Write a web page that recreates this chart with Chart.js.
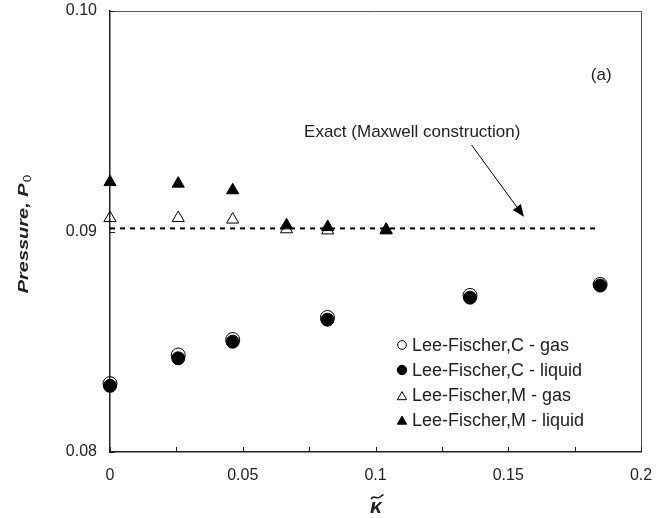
<!DOCTYPE html>
<html>
<head>
<meta charset="utf-8">
<script src="https://cdn.jsdelivr.net/npm/chart.js@4.4.0/dist/chart.umd.min.js"></script>
<style>
html, body { margin: 0; padding: 0; background: #fff; }
</style>
</head>
<body>
<canvas id="chart" width="667" height="518"></canvas>
<script>
// Lee-Fischer C (circles)
const cX = [0, 0.0257, 0.0462, 0.0819, 0.1356, 0.1846];
const cGas = [0.0831, 0.0844, 0.0851, 0.0861, 0.0871, 0.0876];
const cLiquid = [0.0830, 0.08425, 0.0850, 0.0860, 0.0870, 0.08755];

// Lee-Fischer M (triangles)
const mX = [0, 0.0257, 0.0462, 0.0665, 0.0820, 0.1040];
const mGas = [0.09061, 0.09061, 0.09054, 0.09010, 0.09005, 0.09005];
const mLiquid = [0.09224, 0.09217, 0.09187, 0.09028, 0.09020, 0.09008];

// exact Maxwell construction line
const exactX = [0, 0.184];
const exactY = [0.09014, 0.09014];

const xTickValues = [0, 0.025, 0.05, 0.075, 0.1, 0.125, 0.15, 0.175, 0.2];
const xTickLabels = ['0', '', '0.05', '', '0.1', '', '0.15', '', '0.2'];
const yTickValues = [0.08, 0.09, 0.10];
const yTickLabels = ['0.08', '0.09', '0.10'];

const FONT = '"Liberation Sans", Arial, sans-serif';
const INK = '#222';

function pts(xs, ys) {
    return xs.map((x, i) => ({ x: x, y: ys[i] }));
}

function marker(ctx, style, filled, r, x, y) {
    ctx.beginPath();
    if (style === 'circle') {
        ctx.arc(x, y, r, 0, Math.PI * 2);
    } else {
        ctx.moveTo(x, y - r);
        ctx.lineTo(x + r * 0.866, y + r * 0.5);
        ctx.lineTo(x - r * 0.866, y + r * 0.5);
        ctx.closePath();
    }
    if (filled) {
        ctx.fillStyle = '#000';
        ctx.fill();
    }
    ctx.strokeStyle = '#000';
    ctx.lineWidth = 1;
    ctx.stroke();
}

const decor = {
    id: 'decor',
    afterDraw(chart) {
        const ctx = chart.ctx;
        const a = chart.chartArea;
        const xs = chart.scales.x;
        const ys = chart.scales.y;
        ctx.save();

        // top and right frame
        ctx.strokeStyle = '#555';
        ctx.lineWidth = 1;
        ctx.beginPath();
        ctx.moveTo(a.left, a.top + 0.5);
        ctx.lineTo(a.right + 0.5, a.top + 0.5);
        ctx.lineTo(a.right + 0.5, a.bottom);
        ctx.stroke();

        // inward tick marks
        ctx.strokeStyle = INK;
        ctx.beginPath();
        xs.ticks.forEach(t => {
            const px = Math.round(xs.getPixelForValue(t.value)) + 0.5;
            ctx.moveTo(px, a.bottom);
            ctx.lineTo(px, a.bottom - 5);
        });
        ys.ticks.forEach(t => {
            const py = Math.round(ys.getPixelForValue(t.value)) + 0.5;
            ctx.moveTo(a.left, py);
            ctx.lineTo(a.left + 5, py);
        });
        ctx.stroke();

        // y title, stretched like the original
        ctx.save();
        ctx.translate(27.5, 234);
        ctx.rotate(-Math.PI / 2);
        ctx.scale(1.33, 1);
        ctx.fillStyle = INK;
        const main = 'Pressure, P';
        ctx.font = 'italic bold 15px ' + FONT;
        const wMain = ctx.measureText(main).width;
        ctx.font = '10px ' + FONT;
        const wSub = ctx.measureText('0').width;
        const start = -(wMain + wSub + 1) / 2;
        ctx.textBaseline = 'alphabetic';
        ctx.textAlign = 'left';
        ctx.font = 'italic bold 15px ' + FONT;
        ctx.fillText(main, start, 0);
        ctx.font = '10px ' + FONT;
        ctx.fillText('0', start + wMain + 1, 3);
        ctx.restore();

        // x title: kappa with tilde
        ctx.fillStyle = INK;
        ctx.textAlign = 'center';
        ctx.textBaseline = 'alphabetic';
        ctx.font = 'italic bold 21px ' + FONT;
        ctx.fillText('\u03BA', 376, 513);
        ctx.lineWidth = 1.6;
        ctx.strokeStyle = INK;
        ctx.beginPath();
        ctx.moveTo(371, 499);
        ctx.bezierCurveTo(374, 494, 377, 500, 380, 497);
        ctx.bezierCurveTo(381.5, 496, 382.5, 495, 383.5, 494.5);
        ctx.stroke();

        // panel label
        ctx.font = '17px ' + FONT;
        ctx.fillText('(a)', xs.getPixelForValue(0.185), ys.getPixelForValue(0.09714) + 6);

        // annotation + arrow
        ctx.textAlign = 'left';
        ctx.textBaseline = 'middle';
        ctx.fillText('Exact (Maxwell construction)', xs.getPixelForValue(0.0731), ys.getPixelForValue(0.09451));
        const x0 = xs.getPixelForValue(0.1362), y0 = ys.getPixelForValue(0.09392);
        const x1 = xs.getPixelForValue(0.1559), y1 = ys.getPixelForValue(0.09067);
        const ang = Math.atan2(y1 - y0, x1 - x0);
        const hl = 12, hw = 5;
        const bx = x1 - hl * Math.cos(ang), by = y1 - hl * Math.sin(ang);
        ctx.lineWidth = 1;
        ctx.strokeStyle = '#000';
        ctx.beginPath();
        ctx.moveTo(x0, y0);
        ctx.lineTo(bx, by);
        ctx.stroke();
        ctx.fillStyle = '#000';
        ctx.beginPath();
        ctx.moveTo(x1, y1);
        ctx.lineTo(bx + hw * Math.sin(ang), by - hw * Math.cos(ang));
        ctx.lineTo(bx - hw * Math.sin(ang), by + hw * Math.cos(ang));
        ctx.closePath();
        ctx.fill();

        // legend
        const rows = [345, 370, 395.5, 420];
        const legendSets = [0, 1, 2, 3];
        ctx.font = '18px ' + FONT;
        ctx.textBaseline = 'middle';
        legendSets.forEach((di, i) => {
            const ds = chart.data.datasets[di];
            const tri = ds.pointStyle === 'triangle';
            const filled = ds.pointBackgroundColor === '#000';
            const r = tri ? 5.4 : (filled ? 4.7 : 4.3);
            marker(ctx, ds.pointStyle, filled, r, 402, rows[i] + (tri ? 1.5 : 0));
            ctx.fillStyle = INK;
            ctx.fillText(ds.label, 412, rows[i] + 1);
        });

        ctx.restore();
    }
};

new Chart(document.getElementById('chart'), {
    type: 'scatter',
    data: {
        datasets: [
            {
                label: 'Lee-Fischer,C - gas',
                data: pts(cX, cGas),
                pointStyle: 'circle',
                pointRadius: 7,
                pointBackgroundColor: 'rgba(0,0,0,0)',
                pointBorderColor: '#000',
                pointBorderWidth: 1,
                clip: false,
                order: 4
            },
            {
                label: 'Lee-Fischer,C - liquid',
                data: pts(cX, cLiquid),
                pointStyle: 'circle',
                pointRadius: 6.5,
                pointBackgroundColor: '#000',
                pointBorderColor: '#000',
                pointBorderWidth: 1,
                clip: false,
                order: 3
            },
            {
                label: 'Lee-Fischer,M - gas',
                data: pts(mX, mGas),
                pointStyle: 'triangle',
                pointRadius: 7,
                pointBackgroundColor: 'rgba(0,0,0,0)',
                pointBorderColor: '#000',
                pointBorderWidth: 1,
                clip: false,
                order: 2
            },
            {
                label: 'Lee-Fischer,M - liquid',
                data: pts(mX, mLiquid),
                pointStyle: 'triangle',
                pointRadius: 7,
                pointBackgroundColor: '#000',
                pointBorderColor: '#000',
                pointBorderWidth: 1,
                clip: false,
                order: 1
            },
            {
                type: 'line',
                label: 'Exact (Maxwell construction)',
                data: pts(exactX, exactY),
                borderColor: '#000',
                borderWidth: 2,
                borderDash: [5, 5],
                pointRadius: 0,
                fill: false,
                clip: false,
                order: 5
            }
        ]
    },
    options: {
        responsive: false,
        animation: false,
        devicePixelRatio: 1,
        layout: { padding: { left: 0, right: 26, top: 11, bottom: 0 } },
        plugins: {
            legend: { display: false },
            tooltip: { enabled: false }
        },
        scales: {
            x: {
                type: 'linear',
                min: 0,
                max: 0.2,
                afterBuildTicks: s => { s.ticks = xTickValues.map(v => ({ value: v })); },
                afterFit: s => { s.height = 66; s.paddingLeft = 0; s.paddingRight = 0; },
                grid: { display: false, drawTicks: false },
                border: { display: true, color: INK, width: 1.5 },
                ticks: {
                    autoSkip: false,
                    maxRotation: 0,
                    padding: 14,
                    color: INK,
                    font: { family: FONT, size: 16 },
                    callback: (v, i) => xTickLabels[i]
                }
            },
            y: {
                type: 'linear',
                min: 0.08,
                max: 0.10,
                afterBuildTicks: s => { s.ticks = yTickValues.map(v => ({ value: v })); },
                afterFit: s => { s.width = 110; s.paddingTop = 0; s.paddingBottom = 0; },
                grid: { display: false, drawTicks: false },
                border: { display: true, color: INK, width: 1.5 },
                ticks: {
                    padding: 13,
                    color: INK,
                    font: { family: FONT, size: 16 },
                    callback: (v, i) => yTickLabels[i]
                }
            }
        }
    },
    plugins: [decor]
});
</script>
</body>
</html>
